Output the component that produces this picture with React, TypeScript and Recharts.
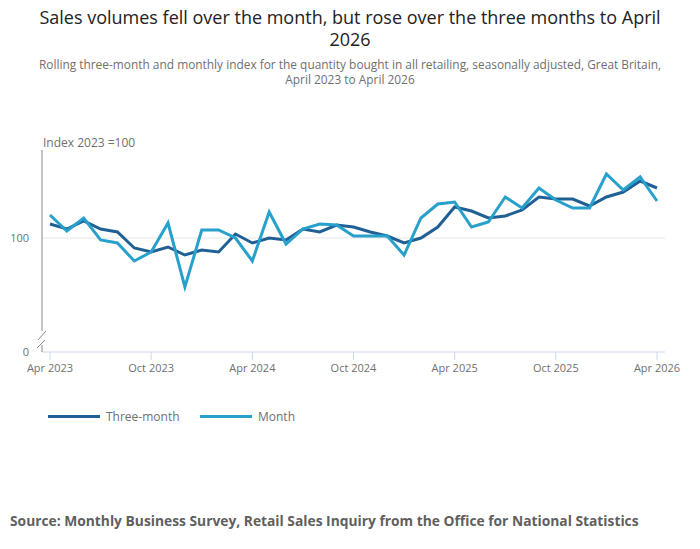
import { Line, LineChart, ReferenceLine, XAxis, YAxis } from "recharts";

const months = [
  "Apr 2023", "May 2023", "Jun 2023", "Jul 2023", "Aug 2023", "Sep 2023", "Oct 2023", "Nov 2023", "Dec 2023",
  "Jan 2024", "Feb 2024", "Mar 2024", "Apr 2024", "May 2024", "Jun 2024", "Jul 2024", "Aug 2024", "Sep 2024", "Oct 2024", "Nov 2024", "Dec 2024",
  "Jan 2025", "Feb 2025", "Mar 2025", "Apr 2025", "May 2025", "Jun 2025", "Jul 2025", "Aug 2025", "Sep 2025", "Oct 2025", "Nov 2025", "Dec 2025",
  "Jan 2026", "Feb 2026", "Mar 2026", "Apr 2026",
];

const threeMonth = [
  101.4, 100.9, 101.7, 100.9, 100.6, 99.0, 98.6, 99.1, 98.3,
  98.8, 98.6, 100.4, 99.5, 100.0, 99.8, 100.9, 100.6, 101.3, 101.1, 100.6, 100.2,
  99.5, 100.0, 101.1, 103.1, 102.7, 102.0, 102.2, 102.8, 104.1, 103.9, 103.9, 103.2,
  104.1, 104.6, 105.7, 105.0,
];

const monthly = [
  102.3, 100.7, 102.0, 99.8, 99.5, 97.7, 98.6, 101.5, 95.1,
  100.8, 100.8, 100.0, 97.7, 102.6, 99.4, 100.9, 101.4, 101.3, 100.2, 100.2, 100.2,
  98.3, 102.0, 103.4, 103.6, 101.1, 101.6, 104.1, 103.0, 105.0, 103.8, 103.0, 103.0,
  106.4, 104.8, 106.1, 103.7,
];

// broken axis: the bottom of the scale is labelled 0
const yMin = 88.6;
const yMax = 108.8;
const yTicks = [yMin, 100];

const series = [
  { key: "threeMonth", name: "Three-month", color: "#206095" },
  { key: "month", name: "Month", color: "#27a0cc" },
];

const data = months.map((m, i) => ({ label: m, threeMonth: threeMonth[i], month: monthly[i] }));

const font = '"Open Sans", sans-serif';

function YTick(props: any) {
  const { x, y, payload } = props;
  const isBase = payload.value === yMin;
  const ax = x + 13;
  return (
    <g>
      <text x={x} y={y} dy={4} textAnchor="end" fill="#707070" fontSize={11} fontFamily={font}>
        {isBase ? "0" : payload.value}
      </text>
      {isBase && (
        <g>
          <rect x={ax - 3} y={y - 21} width={6} height={14} fill="#fff" />
          <line x1={ax - 4} y1={y - 12} x2={ax + 4} y2={y - 21} stroke="#888" strokeWidth={1} />
          <line x1={ax - 5} y1={y - 4} x2={ax + 3} y2={y - 12} stroke="#888" strokeWidth={1} />
        </g>
      )}
    </g>
  );
}

export default function App() {
  return (
    <div
      style={{
        position: "absolute",
        left: 0,
        top: 0,
        width: 700,
        height: 549,
        background: "#fff",
        fontFamily: font,
      }}
    >
      <div
        style={{
          position: "absolute",
          top: 6,
          left: 20,
          width: 660,
          textAlign: "center",
          fontSize: 18,
          lineHeight: "22px",
          color: "#222",
        }}
      >
        Sales volumes fell over the month, but rose over the three months to April 2026
      </div>
      <div
        style={{
          position: "absolute",
          top: 57,
          left: 30,
          width: 640,
          textAlign: "center",
          fontSize: 11.9,
          lineHeight: "15px",
          color: "#707070",
        }}
      >
        Rolling three-month and monthly index for the quantity bought in all retailing, seasonally adjusted, Great Britain,
        April 2023 to April 2026
      </div>
      <div style={{ position: "absolute", top: 134, left: 43, fontSize: 12, color: "#707070" }}>Index 2023 =100</div>

      <div style={{ position: "absolute", top: 0, left: 0 }}>
        <LineChart width={700} height={549} data={data} margin={{ top: 150, right: 35, bottom: 167, left: 0 }}>
          <XAxis
            dataKey="label"
            interval={5}
            height={30}
            padding={{ left: 8, right: 8 }}
            axisLine={{ stroke: "#ccd6eb" }}
            tickLine={{ stroke: "#ccd6eb" }}
            tickSize={8}
            tickMargin={4}
            tick={{ fill: "#707070", fontSize: 11, fontFamily: font }}
          />
          <YAxis
            type="number"
            domain={[yMin, yMax]}
            ticks={yTicks}
            width={42}
            tickLine={false}
            tickSize={0}
            tickMargin={13}
            axisLine={{ stroke: "#888" }}
            tick={<YTick />}
          />
          <ReferenceLine y={100} stroke="#e6e6e6" />
          {series.map((s) => (
            <Line
              key={s.key}
              type="linear"
              dataKey={s.key}
              name={s.name}
              stroke={s.color}
              strokeWidth={3}
              dot={false}
              activeDot={false}
              isAnimationActive={false}
            />
          ))}
        </LineChart>
      </div>

      {series.map((s, i) => (
        <div
          key={s.key}
          style={{ position: "absolute", top: 408, left: 48 + i * 152, display: "flex", alignItems: "center" }}
        >
          <div style={{ width: 52, height: 3, background: s.color }} />
          <span style={{ marginLeft: 6, fontSize: 12, color: "#707070" }}>{s.name}</span>
        </div>
      ))}

      <div
        style={{
          position: "absolute",
          top: 511,
          left: 10,
          fontSize: 13.8,
          fontWeight: "bold",
          color: "#5f5f5f",
        }}
      >
        Source: Monthly Business Survey, Retail Sales Inquiry from the Office for National Statistics
      </div>
    </div>
  );
}
